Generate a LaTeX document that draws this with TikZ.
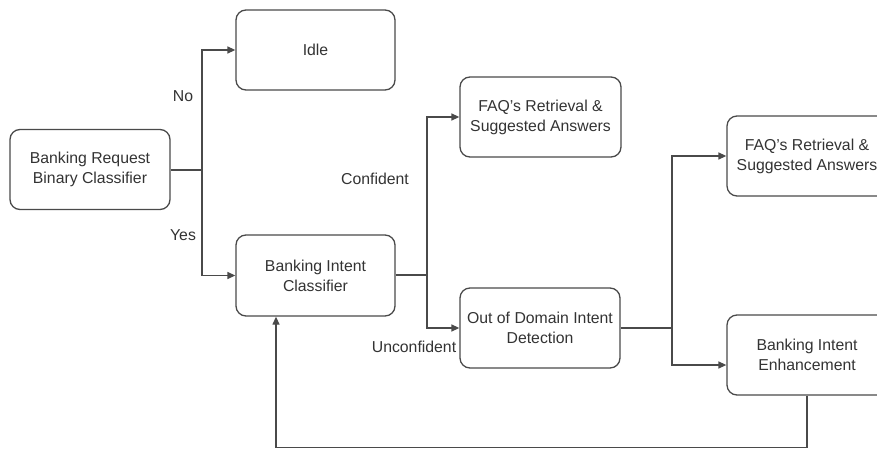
\documentclass[tikz,border=0pt]{standalone}
\usepackage{fontspec}
\setmainfont{Liberation Sans}
\usetikzlibrary{arrows.meta,calc}
\definecolor{linec}{HTML}{4A4A4A}
\definecolor{textc}{HTML}{333333}
\begin{document}
\begin{tikzpicture}[x=1pt,y=-1pt,
  box/.style={draw=linec,line width=1.3pt,rounded corners=10pt,minimum width=#1,minimum height=80pt,
    align=center,text=textc,font=\fontsize{15.8}{20}\selectfont,inner sep=0pt},
  box/.default=160pt,
  conn/.style={draw=linec,line width=1.3pt},
  arr/.style={conn,-{Triangle[length=8pt,width=7pt]}},
  lbl/.style={text=textc,font=\fontsize{15.8}{20}\selectfont,inner sep=0pt}]
\clip (0,0) rectangle (877,449);
\useasboundingbox (0,0) rectangle (877,449);
\node[box] (br) at (90,169.5) {Banking Request\\Binary Classifier};
\node[box=159pt] (idle) at (315.5,50) {Idle};
\node[box=159pt,minimum height=81pt] (bic) at (315.5,275.5) {Banking Intent\\Classifier};
\node[box=161pt] (faq1) at (540.5,117) {FAQ's Retrieval \&\\Suggested Answers};
\node[box] (ood) at (540,328) {Out of Domain Intent\\Detection};
\node[box] (faq2) at (807,156) {FAQ's Retrieval \&\\Suggested Answers};
\node[box] (bie) at (807,355) {Banking Intent\\Enhancement};
\coordinate (j1) at (202,170);
\coordinate (j2) at (427,275);
\coordinate (j3) at (672,328);
\coordinate (fb) at (807,447.5);
\draw[conn] (br.east |- j1) -- (j1);
\draw[arr] (j1) |- (idle.west);
\draw[arr] (j1) |- (bic.west);
\draw[conn] (bic.east |- j2) -- (j2);
\draw[arr] (j2) |- (faq1.west);
\draw[arr] (j2) |- (ood.west);
\draw[conn] (ood.east) -- (j3);
\draw[arr] (j3) |- (faq2.west);
\draw[arr] (j3) |- ([yshift=-10pt]bie.west);
\draw[arr] (bie.south) -- (fb) -| ([xshift=-39.5pt]bic.south);
\node[lbl] (no) at (183,96) {No};
\node[lbl] (yes) at (183,235) {Yes};
\node[lbl] (conf) at (375,179) {Confident};
\node[lbl] (unconf) at (414,347) {Unconfident};
\end{tikzpicture}
\end{document}
